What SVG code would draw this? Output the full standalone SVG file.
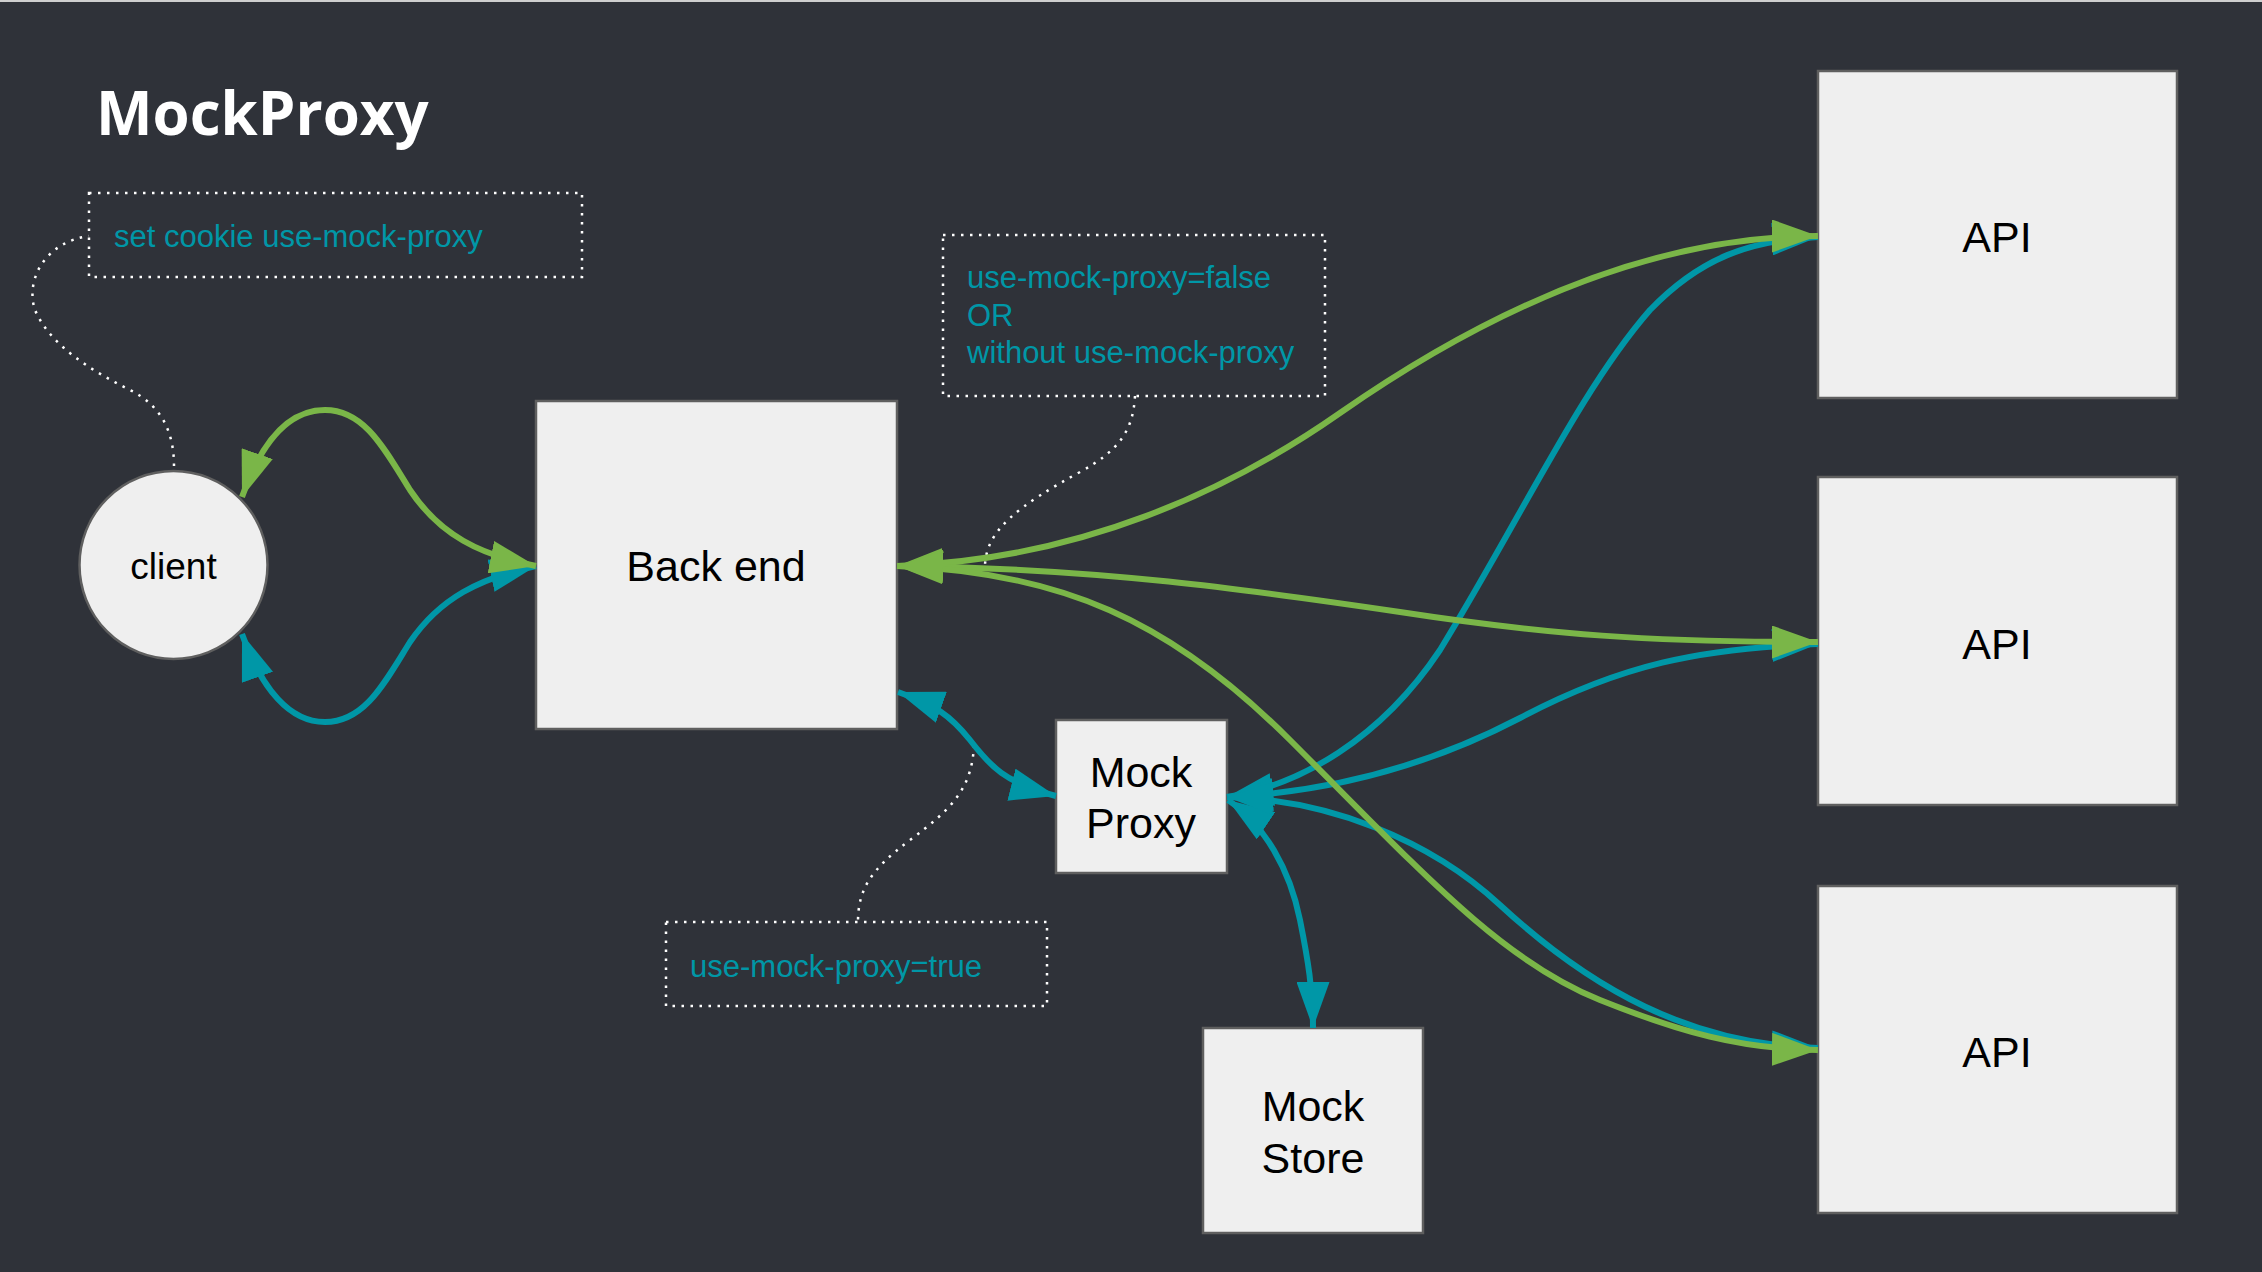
<svg xmlns="http://www.w3.org/2000/svg" width="2262" height="1272" viewBox="0 0 2262 1272">
<defs>
<marker id="ag" viewBox="0 0 46 33" refX="46" refY="16.5" markerWidth="46" markerHeight="33" markerUnits="userSpaceOnUse" orient="auto-start-reverse"><path d="M0,0 L46,16.5 L0,33 Z" fill="#7ab648"/></marker>
<marker id="at" viewBox="0 0 46 33" refX="46" refY="16.5" markerWidth="46" markerHeight="33" markerUnits="userSpaceOnUse" orient="auto-start-reverse"><path d="M0,0 L46,16.5 L0,33 Z" fill="#0097a7"/></marker>
</defs>
<style>
.node{fill:#efefef;stroke:#5f5f5f;stroke-width:2.5}
.lbl{font-family:"Liberation Sans",Arial,sans-serif;font-size:43px;fill:#000;text-anchor:middle}
.note{fill:none;stroke:#ffffff;stroke-width:2.5;stroke-dasharray:2.5 6.5}
.ntext{font-family:"Liberation Sans",Arial,sans-serif;font-size:31px;fill:#0097a7}
.g{fill:none;stroke:#7ab648;stroke-width:6;marker-start:url(#ag);marker-end:url(#ag)}
.t{fill:none;stroke:#0097a7;stroke-width:6;marker-start:url(#at);marker-end:url(#at)}
</style>
<rect x="0" y="0" width="2262" height="1272" fill="#2f3239"/>
<rect x="0" y="0" width="2262" height="2" fill="#cfcfcf"/>
<text x="96" y="135" font-family="'Open Sans',sans-serif" font-weight="bold" font-size="60" fill="#ffffff">MockProxy</text>

<g id="note-cookie">
<rect class="note" x="89" y="193" width="493" height="84"/>
<text class="ntext" x="114" y="247">set cookie use-mock-proxy</text>
<path class="note" d="M174,466 C174,430 160,405 130,390 C90,370 50,345 35,310 C25,280 45,242 89,236"/>
</g>
<g id="note-false">
<rect class="note" x="943" y="235" width="382" height="161"/>
<text class="ntext" x="967" y="288">use-mock-proxy=false</text>
<text class="ntext" x="967" y="326">OR</text>
<text class="ntext" x="967" y="363">without use-mock-proxy</text>
<path class="note" d="M1135,396 C1133,430 1120,450 1080,472 C1020,505 985,530 985,567"/>
</g>
<g id="note-true">
<rect class="note" x="666" y="922" width="381" height="84"/>
<text class="ntext" x="690" y="977">use-mock-proxy=true</text>
<path class="note" d="M974,745 C972,790 950,810 910,840 C870,870 858,890 858,922"/>
</g>

<g id="client"><circle class="node" cx="173.5" cy="565" r="94"/><text class="lbl" x="173.5" y="579" style="font-size:37px">client</text></g>
<g id="backend"><rect class="node" x="536" y="401" width="361" height="328"/><text class="lbl" x="716" y="581">Back end</text></g>
<g id="mockproxy"><rect class="node" x="1056" y="720" width="171" height="153"/><text class="lbl" x="1141" y="787">Mock</text><text class="lbl" x="1141" y="838">Proxy</text></g>
<g id="mockstore"><rect class="node" x="1203" y="1028" width="220" height="205"/><text class="lbl" x="1313" y="1121">Mock</text><text class="lbl" x="1313" y="1173">Store</text></g>
<g id="api1"><rect class="node" x="1818" y="71" width="359" height="327"/><text class="lbl" x="1997" y="252">API</text></g>
<g id="api2"><rect class="node" x="1818" y="477" width="359" height="328"/><text class="lbl" x="1997" y="659">API</text></g>
<g id="api3"><rect class="node" x="1818" y="886" width="359" height="327"/><text class="lbl" x="1997" y="1067">API</text></g>

<g id="connectors">
<path class="t" d="M242,634 C262,690 290,722 325,722 C365,722 385,682 410,642 C440,598 480,578 536,566"/>
<path class="g" d="M242,497 C262,440 290,410 325,410 C365,410 385,450 410,490 C440,535 480,555 536,566"/>
<path class="t" d="M898,692 C935,705 950,715 970,740 C990,766 1005,783 1056,796"/>
<path class="t" d="M1228,800 C1265,825 1290,870 1300,920 C1308,960 1313,990 1313,1028"/>
<path class="t" d="M1227,797 C1300,785 1380,740 1440,650 C1520,520 1580,390 1650,310 C1700,258 1750,240 1818,237"/>
<path class="t" d="M1227,797 C1330,792 1430,765 1520,718 C1620,665 1700,648 1818,644"/>
<path class="t" d="M1227,797 C1330,800 1430,840 1500,905 C1590,988 1690,1045 1818,1048"/>
<path class="g" d="M897,566 C1080,560 1230,490 1340,413 C1472,321 1640,236 1818,236"/>
<path class="g" d="M897,566 C1100,568 1250,590 1400,612 C1550,635 1650,642 1818,642"/>
<path class="g" d="M897,566 C1060,572 1170,620 1290,740 C1420,870 1500,960 1600,1000 C1680,1032 1740,1049 1818,1050"/>
</g>
</svg>
